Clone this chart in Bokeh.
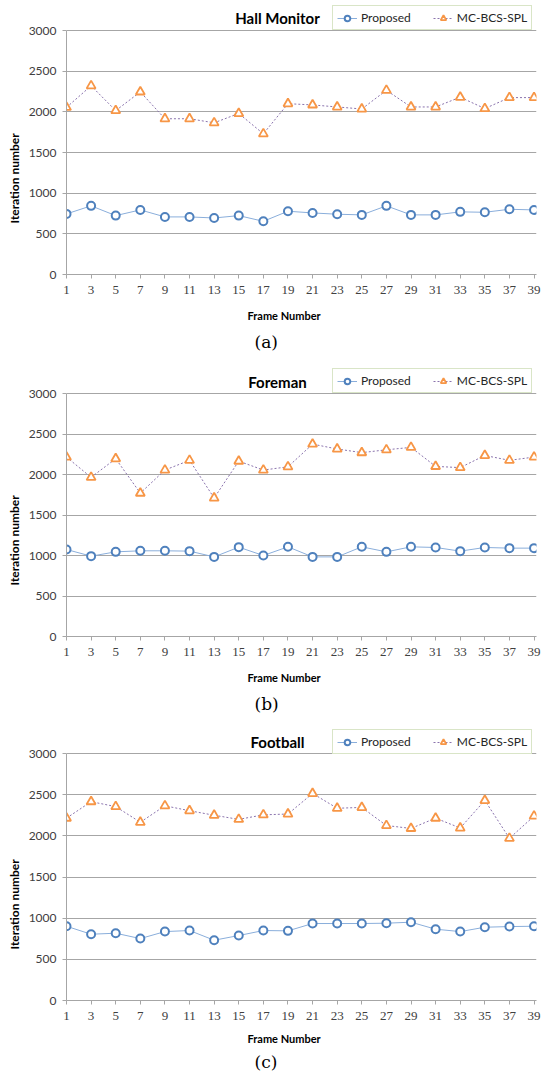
from bokeh.plotting import figure
from bokeh.layouts import column
from bokeh.models import Range1d, FixedTicker, Label, Legend, LegendItem, Title
from bokeh.embed import file_html
from bokeh.resources import INLINE

# ---------------- data ----------------
frames = list(range(1, 40, 2))
y_ticks = [0, 500, 1000, 1500, 2000, 2500, 3000]
titles = ["Hall Monitor", "Foreman", "Football"]
captions = ["(a)", "(b)", "(c)"]
series_names = ["Proposed", "MC-BCS-SPL"]
x_label = "Frame Number"
y_label = "Iteration number"

proposed_hall = [745, 844, 724, 794, 708, 708, 695, 724, 654, 778,
                 757, 741, 733, 844, 733, 733, 770, 765, 802, 794]
mcbcs_hall = [2055, 2320, 2015, 2245, 1915, 1915, 1865, 1980, 1730, 2100,
              2085, 2060, 2035, 2265, 2060, 2060, 2180, 2040, 2175, 2175]

proposed_foreman = [1074, 992, 1045, 1058, 1058, 1054, 983, 1103, 1000, 1107,
                    983, 983, 1107, 1045, 1107, 1099, 1054, 1099, 1091, 1091]
mcbcs_foreman = [2215, 1965, 2195, 1770, 2055, 2175, 1710, 2165, 2055, 2095,
                 2375, 2315, 2270, 2305, 2335, 2100, 2085, 2235, 2175, 2215]

proposed_football = [902, 805, 817, 752, 837, 850, 732, 789, 850, 846,
                     935, 935, 935, 939, 951, 866, 837, 890, 898, 902]
mcbcs_football = [2215, 2415, 2355, 2165, 2365, 2305, 2250, 2200, 2255, 2265,
                  2515, 2335, 2345, 2125, 2090, 2215, 2095, 2430, 1970, 2240]

panels = [
    (titles[0], captions[0], proposed_hall, mcbcs_hall),
    (titles[1], captions[1], proposed_foreman, mcbcs_foreman),
    (titles[2], captions[2], proposed_football, mcbcs_football),
]

# ---------------- layout / style ----------------
fig_heights = [362, 360, 353]
frame_heights = [274, 274, 278]
top_gaps = [30, 31, 31]        # frame top -> 3000 gridline
title_y = [17, 19, 19]         # frame top -> title centre
legend_top = [7, 8, 9]         # frame top -> legend top
fn_standoff = [20, 20, 14]
LEG_H = 23

BLUE = "#4f81bd"
BLUE_LINE = "#8aaedb"
ORANGE = "#f79646"
PURPLE = "#8a73ad"
GRID = "#a6a6a6"

figs = []
for i, (title, cap, prop, mc) in enumerate(panels):
    H = frame_heights[i]
    y_end = 3000 * H / (H - top_gaps[i])
    p = figure(width=541, height=fig_heights[i], output_backend="svg",
               toolbar_location=None, x_range=Range1d(1, 39.2),
               y_range=Range1d(0, y_end), min_border_left=65,
               min_border_right=5, min_border_top=0,
               min_border_bottom=fig_heights[i] - H)
    p.title_location = None
    p.outline_line_color = None
    p.background_fill_color = "white"

    # axes
    p.xaxis.ticker = FixedTicker(ticks=frames)
    p.yaxis.ticker = FixedTicker(ticks=y_ticks)
    p.yaxis.bounds = (0, 3000)
    for ax in (p.xaxis, p.yaxis):
        ax.axis_line_color = GRID
        ax.major_tick_line_color = GRID
        ax.major_tick_out = 4
        ax.major_tick_in = 0
        ax.minor_tick_line_color = None
        ax.major_label_text_color = "#404040"
    p.xaxis.major_label_text_font = "Liberation Serif"
    p.xaxis.major_label_text_font_size = "13px"
    p.xaxis.major_label_standoff = 7
    p.yaxis.major_label_text_font = "Lato"
    p.yaxis.major_label_text_font_size = "12px"
    p.yaxis.major_label_standoff = 6
    p.xgrid.grid_line_color = None
    p.ygrid.ticker = FixedTicker(ticks=y_ticks[1:])
    p.ygrid.grid_line_color = GRID
    p.ygrid.grid_line_width = 1

    # series
    l1 = p.line(frames, prop, line_color=BLUE_LINE, line_width=1)
    s1 = p.scatter(frames, prop, marker="circle", size=8, line_color=BLUE,
                   line_width=2, fill_color="white")
    l2 = p.line(frames, mc, line_color=PURPLE, line_width=1, line_dash="2 2")
    s2 = p.scatter(frames, mc, marker="triangle", size=9, line_color=ORANGE,
                   line_width=1.8, fill_color="white")

    legend = Legend(items=[LegendItem(label=series_names[0], renderers=[l1, s1]),
                           LegendItem(label=series_names[1], renderers=[l2, s2])],
                    location=(266, H - legend_top[i] - LEG_H),
                    orientation="horizontal",
                    padding=4, margin=0, spacing=22, glyph_width=20,
                    glyph_height=14, label_height=14, label_standoff=4,
                    label_text_font="Lato", label_text_font_size="12px",
                    label_text_color="#262626",
                    border_line_color="#b3cc8f", border_line_width=1.5,
                    background_fill_color="white", background_fill_alpha=1)
    p.add_layout(legend)

    # chart title (inside the frame's top strip)
    p.add_layout(Label(x=211, y=H - title_y[i], x_units="screen", y_units="screen",
                       text=title, text_font="Lato", text_font_style="bold",
                       text_font_size="15px", text_align="center",
                       text_baseline="middle", text_color="#000000"))

    # y axis label
    p.add_layout(Title(text=y_label, align="left", offset=51, standoff=8,
                       text_font="Lato", text_font_style="bold",
                       text_font_size="12px", text_color="#000000"), "left")
    # x axis label and caption
    p.add_layout(Title(text=x_label, align="left", offset=181,
                       standoff=fn_standoff[i], vertical_align="bottom",
                       text_font="Lato", text_font_style="bold",
                       text_font_size="11px", text_color="#000000"), "below")
    p.add_layout(Title(text=cap, align="left", offset=188, standoff=0,
                       vertical_align="top",
                       text_font="DejaVu Serif", text_font_style="normal",
                       text_font_size="17px", text_color="#000000"), "below")
    figs.append(p)

layout = column(*figs, spacing=0)
open("out.html", "w").write(file_html(layout, INLINE))
